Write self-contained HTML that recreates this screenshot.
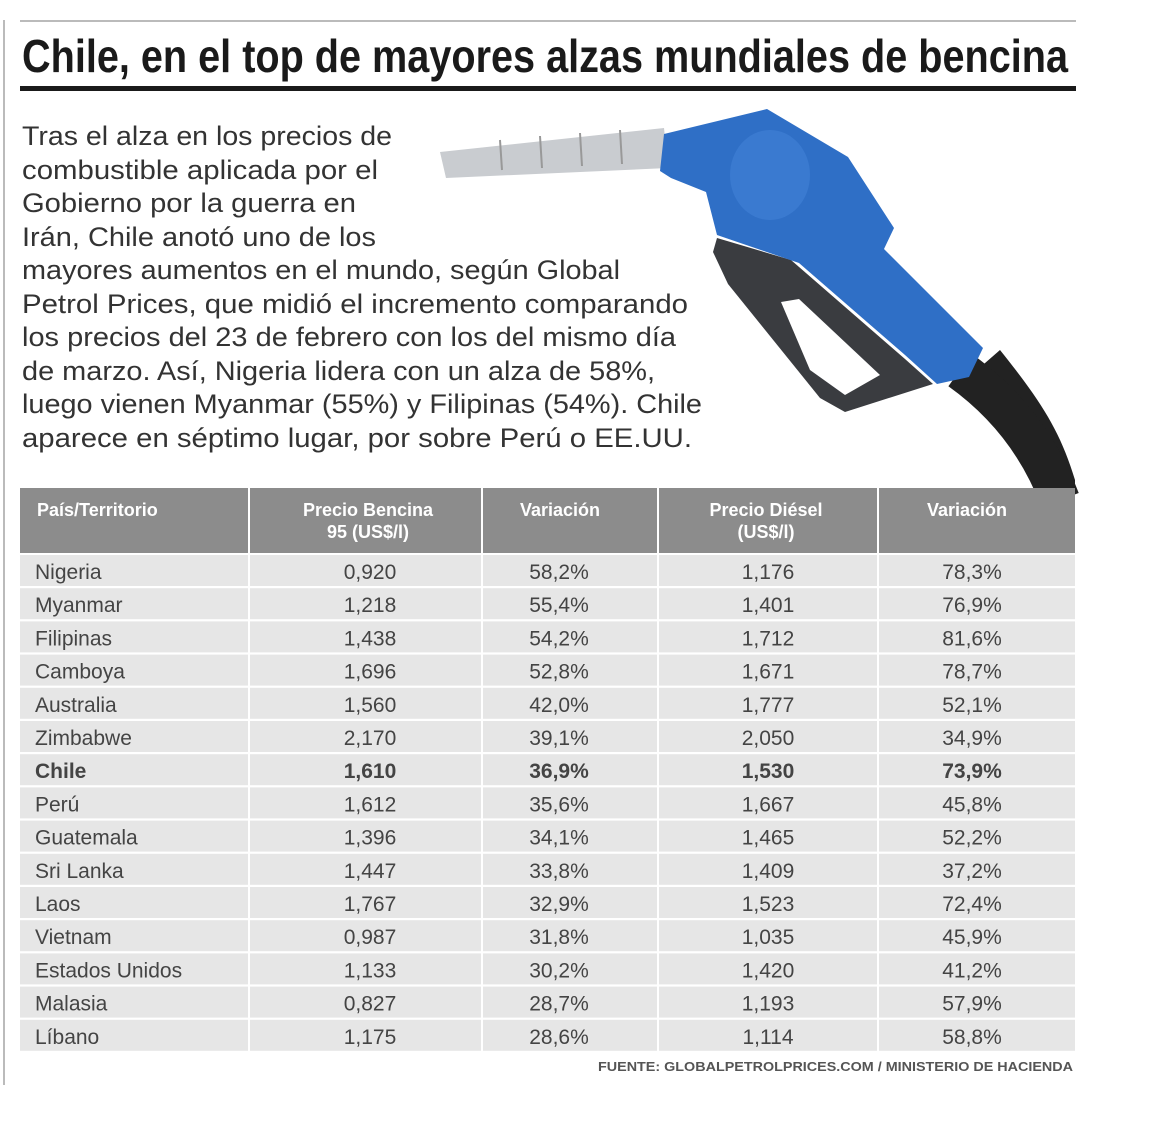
<!DOCTYPE html>
<html><head><meta charset="utf-8"><style>
html,body{margin:0;padding:0;background:#fff;width:1154px;height:1122px;overflow:hidden}
svg{display:block}
.b{font-family:"Liberation Sans",sans-serif;fill:#333;font-size:27px}
.t{font-family:"Liberation Sans",sans-serif;font-size:21px;fill:#444}
.h{font-family:"Liberation Sans",sans-serif;font-size:18px;fill:#fff;font-weight:bold}
</style></head><body>
<svg width="1154" height="1122" viewBox="0 0 1154 1122">
<rect x="3" y="20" width="2" height="1065" fill="#bbb"/>
<rect x="20" y="20" width="1056" height="2" fill="#bbb"/>
<text x="22" y="72" font-family="Liberation Sans" font-weight="bold" font-size="46" fill="#1a1a1a" textLength="1046" lengthAdjust="spacingAndGlyphs">Chile, en el top de mayores alzas mundiales de bencina</text>
<rect x="20" y="86" width="1056" height="5" fill="#1a1a1a"/>
<!-- pump -->
<polygon points="440,152 664,128 668,168 446,178" fill="#c9ccd0"/>
<g stroke="#999" stroke-width="2"><line x1="500" y1="140" x2="502" y2="170"/><line x1="540" y1="136" x2="542" y2="168"/><line x1="580" y1="133" x2="582" y2="166"/><line x1="620" y1="130" x2="622" y2="164"/></g>
<path d="M969,377 C1010,420 1050,440 1075,511 L1075,480 C1060,430 1040,400 1000,350 Z" fill="#222"/>
<path d="M960,370 Q1030,420 1060,500" stroke="#222" stroke-width="40" fill="none"/>
<polygon points="717,238 791,260 905,359 933,384 845,412 820,398 728,284 713,252" fill="#3a3c40"/>
<polygon points="781,302 799,299 880,375 845,395 810,370" fill="#fff"/>
<polygon points="664,134 767,109 848,157 894,228 884,249 983,348 969,377 937,384 905,355 799,263 717,235 706,192 671,178 660,171" fill="#2f6fc6"/>
<ellipse cx="770" cy="175" rx="40" ry="45" fill="#3a7ad0"/>
<!-- body text -->
<g class="b">
<text x="22" y="145" textLength="370" lengthAdjust="spacingAndGlyphs">Tras el alza en los precios de</text>
<text x="22" y="179" textLength="356" lengthAdjust="spacingAndGlyphs">combustible aplicada por el</text>
<text x="22" y="212" textLength="334" lengthAdjust="spacingAndGlyphs">Gobierno por la guerra en</text>
<text x="22" y="246" textLength="354" lengthAdjust="spacingAndGlyphs">Irán, Chile anotó uno de los</text>
<text x="22" y="279" textLength="598" lengthAdjust="spacingAndGlyphs">mayores aumentos en el mundo, según Global</text>
<text x="22" y="313" textLength="666" lengthAdjust="spacingAndGlyphs">Petrol Prices, que midió el incremento comparando</text>
<text x="22" y="346" textLength="654" lengthAdjust="spacingAndGlyphs">los precios del 23 de febrero con los del mismo día</text>
<text x="22" y="380" textLength="633" lengthAdjust="spacingAndGlyphs">de marzo. Así, Nigeria lidera con un alza de 58%,</text>
<text x="22" y="413" textLength="680" lengthAdjust="spacingAndGlyphs">luego vienen Myanmar (55%) y Filipinas (54%). Chile</text>
<text x="22" y="447" textLength="670" lengthAdjust="spacingAndGlyphs">aparece en séptimo lugar, por sobre Perú o EE.UU.</text>
</g>
<!-- table header -->
<g fill="#8c8c8c">
<rect x="20" y="488" width="228" height="65"/><rect x="250" y="488" width="231" height="65"/><rect x="483" y="488" width="174" height="65"/><rect x="659" y="488" width="218" height="65"/><rect x="879" y="488" width="196" height="65"/>
</g>
<g class="h">
<text x="37" y="516">País/Territorio</text>
<text x="368" y="516" text-anchor="middle">Precio Bencina</text>
<text x="368" y="538" text-anchor="middle">95 (US$/l)</text>
<text x="560" y="516" text-anchor="middle">Variación</text>
<text x="766" y="516" text-anchor="middle">Precio Diésel</text>
<text x="766" y="538" text-anchor="middle">(US$/l)</text>
<text x="967" y="516" text-anchor="middle">Variación</text>
</g>
<g fill="#e6e6e6" id="rows">
</g>
<g id="cells"></g>
<text x="1073" y="1071" text-anchor="end" font-family="Liberation Sans" font-weight="bold" font-size="13" fill="#555" textLength="475" lengthAdjust="spacingAndGlyphs">FUENTE: GLOBALPETROLPRICES.COM / MINISTERIO DE HACIENDA</text>
</svg>
<script>
var d=[["Nigeria","0,920","58,2%","1,176","78,3%"],["Myanmar","1,218","55,4%","1,401","76,9%"],["Filipinas","1,438","54,2%","1,712","81,6%"],["Camboya","1,696","52,8%","1,671","78,7%"],["Australia","1,560","42,0%","1,777","52,1%"],["Zimbabwe","2,170","39,1%","2,050","34,9%"],["Chile","1,610","36,9%","1,530","73,9%"],["Perú","1,612","35,6%","1,667","45,8%"],["Guatemala","1,396","34,1%","1,465","52,2%"],["Sri Lanka","1,447","33,8%","1,409","37,2%"],["Laos","1,767","32,9%","1,523","72,4%"],["Vietnam","0,987","31,8%","1,035","45,9%"],["Estados Unidos","1,133","30,2%","1,420","41,2%"],["Malasia","0,827","28,7%","1,193","57,9%"],["Líbano","1,175","28,6%","1,114","58,8%"]];
var ns="http://www.w3.org/2000/svg",R=document.getElementById("rows"),C=document.getElementById("cells");
var cols=[[20,228],[250,231],[483,174],[659,218],[879,196]],cx=[35,370,559,768,972];
d.forEach(function(r,i){var top=555+i*33.2;
cols.forEach(function(c){var e=document.createElementNS(ns,"rect");e.setAttribute("x",c[0]);e.setAttribute("y",top);e.setAttribute("width",c[1]);e.setAttribute("height",31);R.appendChild(e);});
r.forEach(function(v,j){var t=document.createElementNS(ns,"text");t.setAttribute("class","t");t.setAttribute("x",cx[j]);t.setAttribute("y",top+24);if(j>0)t.setAttribute("text-anchor","middle");if(i==6){t.setAttribute("font-weight","bold");t.setAttribute("fill","#111");}t.textContent=v;C.appendChild(t);});});
</script>
</body></html>
